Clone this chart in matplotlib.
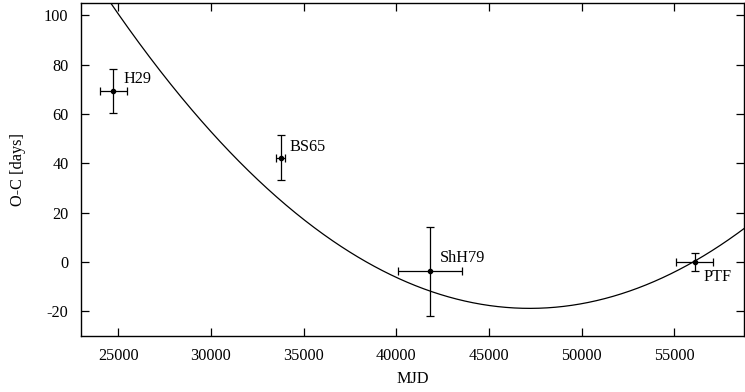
import numpy as np
import matplotlib
matplotlib.use("Agg")
import matplotlib.pyplot as plt

plt.rcParams['font.family'] = ['Liberation Serif', 'DejaVu Serif']
plt.rcParams['axes.unicode_minus'] = False

# observed timings
names = ['H29', 'BS65', 'ShH79', 'PTF']
mjd = [24750, 33780, 41830, 56090]
mjd_err = [740, 240, 1730, 990]
oc = [69.3, 42.3, -3.7, 0.0]
oc_err = [9.0, 9.0, 18.0, 3.5]
label_x = [25300, 34220, 42340, 56550]
label_y = [74.0, 46.6, 1.6, -6.1]

# parabolic fit: a*(x - x0)^2 + y0
fit_a = 2.424e-7
fit_x0 = 47200
fit_y0 = -18.8

fs = 11.7

fig = plt.figure(figsize=(7.45, 3.92), dpi=100)
ax = fig.add_axes([81/745, 1 - 336/392, (744 - 81)/745, (336 - 3)/392])

xs = np.linspace(22000, 60000, 600)
ax.plot(xs, fit_a*(xs - fit_x0)**2 + fit_y0, color='black', lw=0.9)

ax.errorbar(mjd, oc, xerr=mjd_err, yerr=oc_err, fmt='o', color='black',
			ms=3, elinewidth=0.9, capsize=3, capthick=0.9)

for n, lx, ly in zip(names, label_x, label_y):
	ax.text(lx, ly, n, fontsize=fs, va='center', ha='left')

ax.set_xlim(23000, 58750)
ax.set_ylim(-30, 105)
ax.set_xticks([25000, 30000, 35000, 40000, 45000, 50000, 55000])
ax.set_yticks([-20, 0, 20, 40, 60, 80, 100])
ax.tick_params(direction='in', top=True, right=True, length=6, width=0.9,
			   labelsize=fs)
ax.tick_params(axis='x', pad=9)
ax.tick_params(axis='y', pad=9)
for s in ax.spines.values():
	s.set_linewidth(1.0)

ax.set_xlabel('MJD', fontsize=fs, labelpad=5)
ax.set_ylabel('O-C [days]', fontsize=fs, labelpad=13)

fig.savefig('out.png', dpi=100)
